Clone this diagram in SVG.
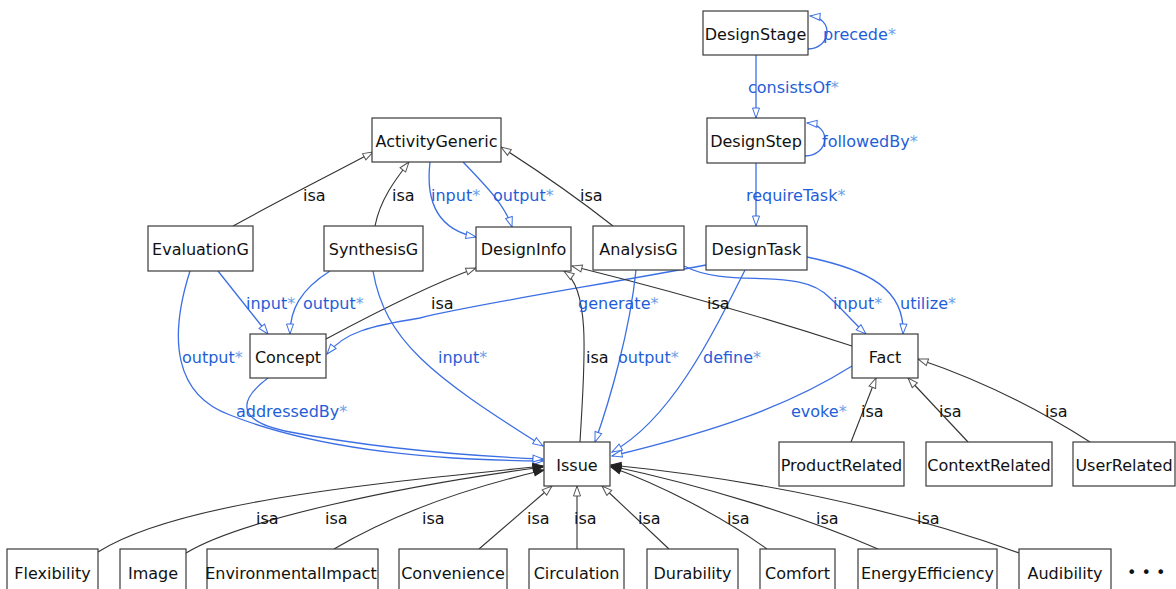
<svg xmlns="http://www.w3.org/2000/svg" width="1176" height="589" viewBox="0 0 1176 589">
  <defs>
    <style>
      .box { fill: #fff; stroke: #3a3a3a; stroke-width: 1.2; }
      .nt { font-family: "DejaVu Sans", sans-serif; font-size: 16px; fill: #111; text-anchor: middle; }
      .lb { font-family: "DejaVu Sans", sans-serif; font-size: 16px; fill: #111; }
      .bl { font-family: "DejaVu Sans", sans-serif; font-size: 16px; fill: #1f5ed8; }
      .st { fill: #6f9fe6; }
      .isa { fill: none; stroke: #333; stroke-width: 1.1; marker-end: url(#hIsa); }
      .isd { fill: none; stroke: #333; stroke-width: 1.1; marker-end: url(#hIsaDark); }
      .rel { fill: none; stroke: #3c6fe4; stroke-width: 1.3; marker-end: url(#hRel); }
    </style>
    <marker id="hIsa" viewBox="0 0 12 10" refX="11" refY="5" markerWidth="12" markerHeight="10" markerUnits="userSpaceOnUse" orient="auto">
      <path d="M1,1.5 L11,5 L1,8.5 Z" fill="#fff" stroke="#555" stroke-width="1"/>
    </marker>
    <marker id="hIsaDark" viewBox="0 0 12 10" refX="11" refY="5" markerWidth="12" markerHeight="10" markerUnits="userSpaceOnUse" orient="auto">
      <path d="M1,1.5 L11,5 L1,8.5 Z" fill="#222" stroke="#222" stroke-width="1"/>
    </marker>
    <marker id="hRel" viewBox="0 0 12 10" refX="11" refY="5" markerWidth="12" markerHeight="10" markerUnits="userSpaceOnUse" orient="auto">
      <path d="M1,1.5 L11,5 L1,8.5 Z" fill="#fff" stroke="#3c6fe4" stroke-width="1"/>
    </marker>
  </defs>
  <rect width="1176" height="589" fill="#fff"/>

  <!-- connectors -->
  <g id="connectors">
    <!-- design process chain -->
    <path class="rel" d="M808,49 C832,48 834,18 810,16"/>
    <path class="rel" d="M756,55 L756,118"/>
    <path class="rel" d="M805,156 C830,155 832,125 807,123"/>
    <path class="rel" d="M756,163 L756,226"/>

    <!-- generic activities -->
    <path class="isa" d="M233,226 C280,200 330,175 373,152"/>
    <path class="isa" d="M375,226 C380,200 395,180 409,162"/>
    <path class="isa" d="M613,226 C580,200 540,172 501,147"/>
    <path class="rel" d="M430,162 C425,205 440,230 476,237"/>
    <path class="rel" d="M463,162 C485,185 505,205 512,227"/>

    <!-- concept -->
    <path class="rel" d="M218,271 L268,334"/>
    <path class="rel" d="M330,271 C300,290 290,310 290,334"/>
    <path class="isa" d="M326,339 C380,310 430,285 476,268"/>
    <path class="rel" d="M706,265 C600,285 470,305 420,318 C370,326 345,332 327,354"/>

    <!-- design info / fact -->
    <path class="isa" d="M580,442 C584,370 592,290 564,271"/>
    <path class="isa" d="M852,346 C760,316 660,288 572,266"/>
    <path class="rel" d="M684,266 C730,290 800,265 830,298 C845,312 855,324 866,334"/>
    <path class="rel" d="M807,257 C870,270 905,290 903,334"/>

    <!-- relations into issue -->
    <path class="rel" d="M636,270 C630,330 610,400 595,442"/>
    <path class="rel" d="M745,270 C710,340 670,420 612,452"/>
    <path class="rel" d="M852,366 C790,405 720,430 612,456"/>
    <path class="rel" d="M373,271 C385,340 430,375 543,446"/>
    <path class="rel" d="M190,271 C168,340 175,395 230,415 C300,443 400,460 543,461"/>
    <path class="rel" d="M268,378 C236,402 238,422 290,432 C380,449 470,456 543,459"/>

    <!-- issue subclasses -->
    <path class="isd" d="M98,552 C180,500 390,482 543,466"/>
    <path class="isd" d="M186,553 C240,520 400,486 543,467"/>
    <path class="isd" d="M334,549 C400,510 480,485 544,470"/>
    <path class="isa" d="M479,549 L552,486"/>
    <path class="isa" d="M577,549 L577,486"/>
    <path class="isa" d="M669,549 L602,486"/>
    <path class="isd" d="M767,549 C720,515 660,485 611,467"/>
    <path class="isd" d="M878,549 C800,515 700,485 611,466"/>
    <path class="isd" d="M1019,553 C900,510 760,480 611,465"/>

    <!-- fact subclasses -->
    <path class="isa" d="M851,442 L876,378"/>
    <path class="isa" d="M968,442 L908,378"/>
    <path class="isa" d="M1090,442 C1040,410 980,380 918,359"/>
  </g>

  <!-- connector labels -->
  <g id="labels">
    <text class="bl" x="823" y="40">precede<tspan class="st">*</tspan></text>
    <text class="bl" x="748" y="93">consistsOf<tspan class="st">*</tspan></text>
    <text class="bl" x="822" y="147">followedBy<tspan class="st">*</tspan></text>
    <text class="bl" x="746" y="201">requireTask<tspan class="st">*</tspan></text>
    <text class="lb" x="303" y="201">isa</text>
    <text class="lb" x="392" y="201">isa</text>
    <text class="bl" x="431" y="201">input<tspan class="st">*</tspan></text>
    <text class="bl" x="493" y="201">output<tspan class="st">*</tspan></text>
    <text class="lb" x="580" y="201">isa</text>
    <text class="bl" x="246" y="309">input<tspan class="st">*</tspan></text>
    <text class="bl" x="303" y="309">output<tspan class="st">*</tspan></text>
    <text class="lb" x="431" y="309">isa</text>
    <text class="bl" x="578" y="309">generate<tspan class="st">*</tspan></text>
    <text class="lb" x="707" y="309">isa</text>
    <text class="bl" x="833" y="309">input<tspan class="st">*</tspan></text>
    <text class="bl" x="900" y="309">utilize<tspan class="st">*</tspan></text>
    <text class="bl" x="182" y="363">output<tspan class="st">*</tspan></text>
    <text class="bl" x="438" y="363">input<tspan class="st">*</tspan></text>
    <text class="lb" x="586" y="363">isa</text>
    <text class="bl" x="618" y="363">output<tspan class="st">*</tspan></text>
    <text class="bl" x="703" y="363">define<tspan class="st">*</tspan></text>
    <text class="bl" x="236" y="417">addressedBy<tspan class="st">*</tspan></text>
    <text class="bl" x="791" y="417">evoke<tspan class="st">*</tspan></text>
    <text class="lb" x="861" y="417">isa</text>
    <text class="lb" x="939" y="417">isa</text>
    <text class="lb" x="1045" y="417">isa</text>
    <text class="lb" x="256" y="524">isa</text>
    <text class="lb" x="325" y="524">isa</text>
    <text class="lb" x="422" y="524">isa</text>
    <text class="lb" x="527" y="524">isa</text>
    <text class="lb" x="574" y="524">isa</text>
    <text class="lb" x="638" y="524">isa</text>
    <text class="lb" x="727" y="524">isa</text>
    <text class="lb" x="816" y="524">isa</text>
    <text class="lb" x="917" y="524">isa</text>
  </g>

  <!-- nodes -->
  <g id="DesignStage"><rect class="box" x="703" y="11" width="105" height="44"/><text class="nt" x="755.5" y="40">DesignStage</text></g>
  <g id="DesignStep"><rect class="box" x="707" y="118" width="98" height="45"/><text class="nt" x="756" y="147">DesignStep</text></g>
  <g id="DesignTask"><rect class="box" x="706" y="226" width="101" height="44"/><text class="nt" x="756.5" y="255">DesignTask</text></g>
  <g id="ActivityGeneric"><rect class="box" x="372" y="118" width="129" height="44"/><text class="nt" x="436.5" y="147">ActivityGeneric</text></g>
  <g id="EvaluationG"><rect class="box" x="148" y="226" width="105" height="45"/><text class="nt" x="200.5" y="255">EvaluationG</text></g>
  <g id="SynthesisG"><rect class="box" x="324" y="226" width="99" height="45"/><text class="nt" x="373.5" y="255">SynthesisG</text></g>
  <g id="DesignInfo"><rect class="box" x="476" y="227" width="95" height="44"/><text class="nt" x="523.5" y="255">DesignInfo</text></g>
  <g id="AnalysisG"><rect class="box" x="593" y="226" width="91" height="44"/><text class="nt" x="638.5" y="255">AnalysisG</text></g>
  <g id="Concept"><rect class="box" x="250" y="334" width="76" height="44"/><text class="nt" x="288" y="363">Concept</text></g>
  <g id="Fact"><rect class="box" x="852" y="334" width="66" height="44"/><text class="nt" x="885" y="363">Fact</text></g>
  <g id="Issue"><rect class="box" x="544" y="442" width="66" height="44"/><text class="nt" x="577" y="471">Issue</text></g>
  <g id="ProductRelated"><rect class="box" x="779" y="442" width="125" height="44"/><text class="nt" x="841.5" y="471">ProductRelated</text></g>
  <g id="ContextRelated"><rect class="box" x="926" y="442" width="126" height="44"/><text class="nt" x="989" y="471">ContextRelated</text></g>
  <g id="UserRelated"><rect class="box" x="1073" y="442" width="102" height="44"/><text class="nt" x="1124" y="471">UserRelated</text></g>
  <g id="Flexibility"><rect class="box" x="7" y="549" width="91" height="50"/><text class="nt" x="52.5" y="579">Flexibility</text></g>
  <g id="Image"><rect class="box" x="120" y="549" width="66" height="50"/><text class="nt" x="153" y="579">Image</text></g>
  <g id="EnvironmentalImpact"><rect class="box" x="207" y="549" width="171" height="50"/><text class="nt" x="291" y="579">EnvironmentalImpact</text></g>
  <g id="Convenience"><rect class="box" x="399" y="549" width="108" height="50"/><text class="nt" x="453" y="579">Convenience</text></g>
  <g id="Circulation"><rect class="box" x="529" y="549" width="95" height="50"/><text class="nt" x="576.5" y="579">Circulation</text></g>
  <g id="Durability"><rect class="box" x="647" y="549" width="91" height="50"/><text class="nt" x="692.5" y="579">Durability</text></g>
  <g id="Comfort"><rect class="box" x="760" y="549" width="75" height="50"/><text class="nt" x="797.5" y="579">Comfort</text></g>
  <g id="EnergyEfficiency"><rect class="box" x="858" y="549" width="139" height="50"/><text class="nt" x="927.5" y="579">EnergyEfficiency</text></g>
  <g id="Audibility"><rect class="box" x="1019" y="549" width="92" height="50"/><text class="nt" x="1065" y="579">Audibility</text></g>
  <text class="lb" x="1127" y="578" font-size="19">• • •</text>
</svg>
